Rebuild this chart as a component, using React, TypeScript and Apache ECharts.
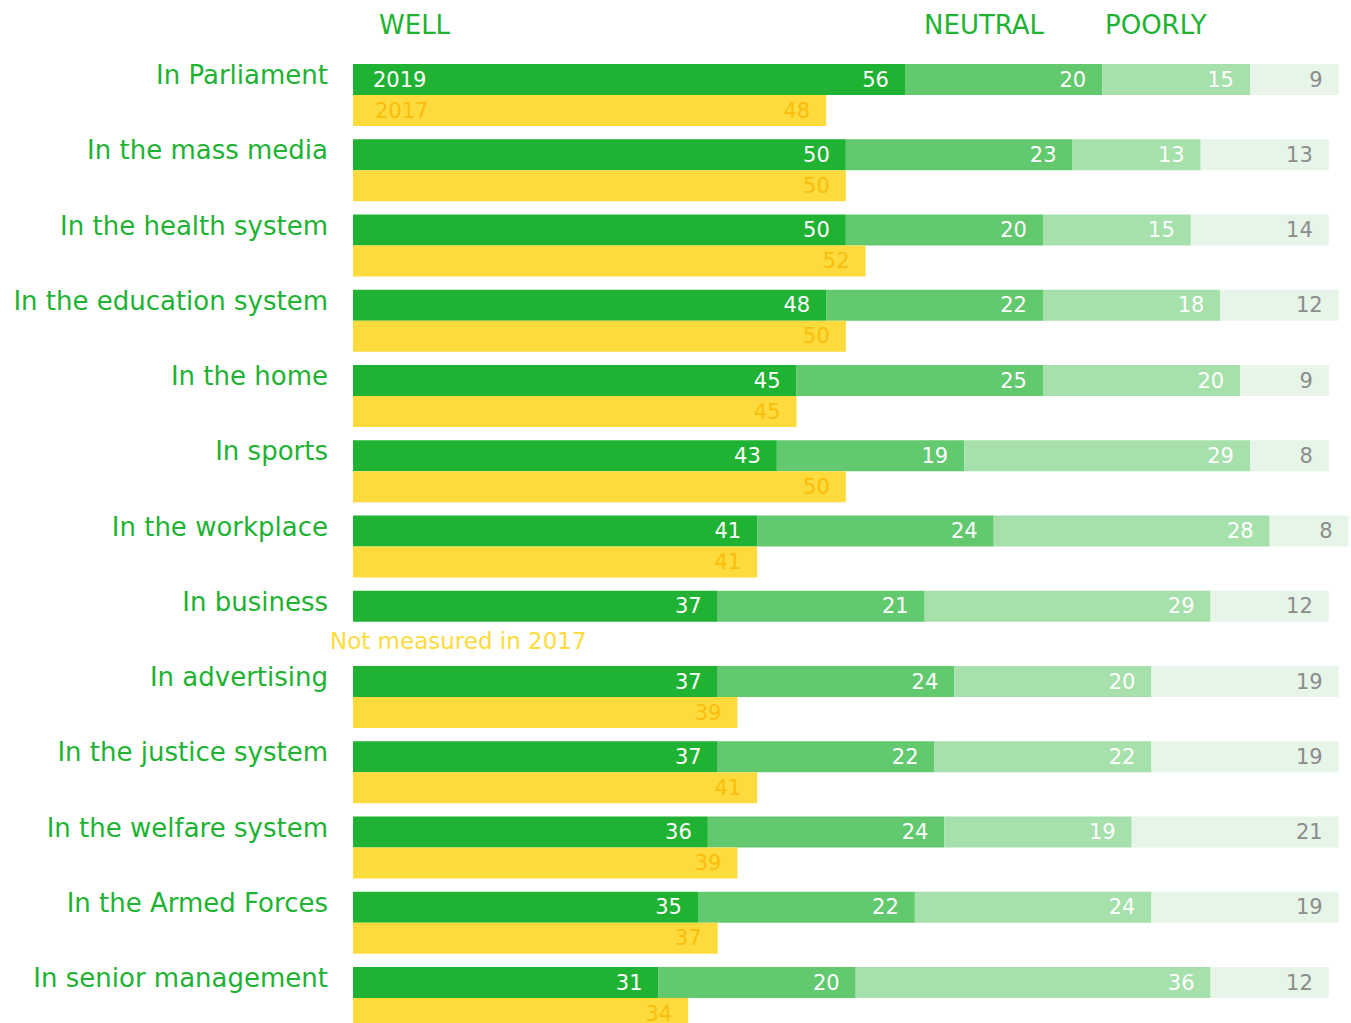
import React, { useEffect, useRef } from "react";
import * as echarts from "echarts";

const categories = [
  "In Parliament",
  "In the mass media",
  "In the health system",
  "In the education system",
  "In the home",
  "In sports",
  "In the workplace",
  "In business",
  "In advertising",
  "In the justice system",
  "In the welfare system",
  "In the Armed Forces",
  "In senior management",
];
const well2019 = [56, 50, 50, 48, 45, 43, 41, 37, 37, 37, 36, 35, 31];
const neutral2019 = [20, 23, 20, 22, 25, 19, 24, 21, 24, 22, 24, 22, 20];
const poorly2019 = [15, 13, 15, 18, 20, 29, 28, 29, 20, 22, 19, 24, 36];
const dontKnow2019 = [9, 13, 14, 12, 9, 8, 8, 12, 19, 19, 21, 19, 12];
const well2017: (number | null)[] = [48, 50, 52, 50, 45, 50, 41, null, 39, 41, 39, 37, 34];
const headers = ["WELL", "NEUTRAL", "POORLY"];

const FONT = "DejaVu Sans";
const GREEN = "#20b232";
const YELLOW = "#fddb3c";
const YELLOW_TXT = "#fbbd0c";

export default function App() {
  const ref = useRef<HTMLDivElement>(null);
  useEffect(() => {
    document.body.style.margin = "0";
    document.body.style.overflow = "hidden";
    document.documentElement.style.overflow = "hidden";
    const chart = echarts.init(ref.current!, null, { renderer: "svg" });
    const seg = (name: string, data: number[], color: string, labelColor: string) => ({
      name,
      type: "bar",
      stack: "y2019",
      data,
      barWidth: 31,
      barGap: "0%",
      clip: false,
      itemStyle: { color },
      label: {
        show: true,
        position: "insideRight",
        distance: 16,
        color: labelColor,
        fontFamily: FONT,
        fontSize: 21,
      },
    });
    chart.setOption({
      animation: false,
      grid: { left: 353, right: 12.3, top: 57.4, height: 978.25, containLabel: false },
      xAxis: { type: "value", min: 0, max: 100, show: false },
      yAxis: {
        type: "category",
        data: categories,
        inverse: true,
        axisLine: { show: false },
        axisTick: { show: false },
        axisLabel: {
          margin: 25,
          color: GREEN,
          fontFamily: FONT,
          fontSize: 26,
          verticalAlign: "bottom",
          lineHeight: 40,
        },
      },
      series: [
        seg("Well", well2019, GREEN, "#ffffff"),
        seg("Neutral", neutral2019, "#62c96e", "#ffffff"),
        seg("Poorly", poorly2019, "#a6e1ab", "#ffffff"),
        seg("Don't know", dontKnow2019, "#e6f5e8", "#8c8c8c"),
        {
          name: "2017",
          type: "bar",
          stack: "y2017",
          data: well2017,
          barWidth: 31,
          barGap: "0%",
          itemStyle: { color: YELLOW },
          label: {
            show: true,
            position: "insideRight",
            distance: 16,
            color: YELLOW_TXT,
            fontFamily: FONT,
            fontSize: 21,
          },
        },
      ],
    });
    const p0 = chart.convertToPixel({ gridIndex: 0 }, [0, categories[0]]) as number[];
    const pb = chart.convertToPixel({ gridIndex: 0 }, [0, "In business"]) as number[];
    const headerX = [379, 924, 1105];
    chart.setOption({
      graphic: [
        ...headers.map((h, i) => ({
          type: "text",
          x: headerX[i],
          y: 25,
          z: 100,
          style: {
            text: h,
            fill: GREEN,
            font: `26px "${FONT}"`,
            textVerticalAlign: "middle",
          },
        })),
        {
          type: "text",
          x: p0[0] + 20,
          y: p0[1] - 15.5,
          z: 100,
          style: { text: "2019", fill: "#ffffff", font: `21px "${FONT}"`, textVerticalAlign: "middle" },
        },
        {
          type: "text",
          x: p0[0] + 22,
          y: p0[1] + 15.5,
          z: 100,
          style: { text: "2017", fill: YELLOW_TXT, font: `21px "${FONT}"`, textVerticalAlign: "middle" },
        },
        {
          type: "text",
          x: pb[0] - 23,
          y: pb[1] + 19,
          z: 100,
          style: {
            text: "Not measured in 2017",
            fill: YELLOW,
            font: `23px "${FONT}"`,
            textVerticalAlign: "middle",
          },
        },
      ],
    });
    return () => chart.dispose();
  }, []);
  return <div ref={ref} style={{ width: 1351, height: 1045 }} />;
}
